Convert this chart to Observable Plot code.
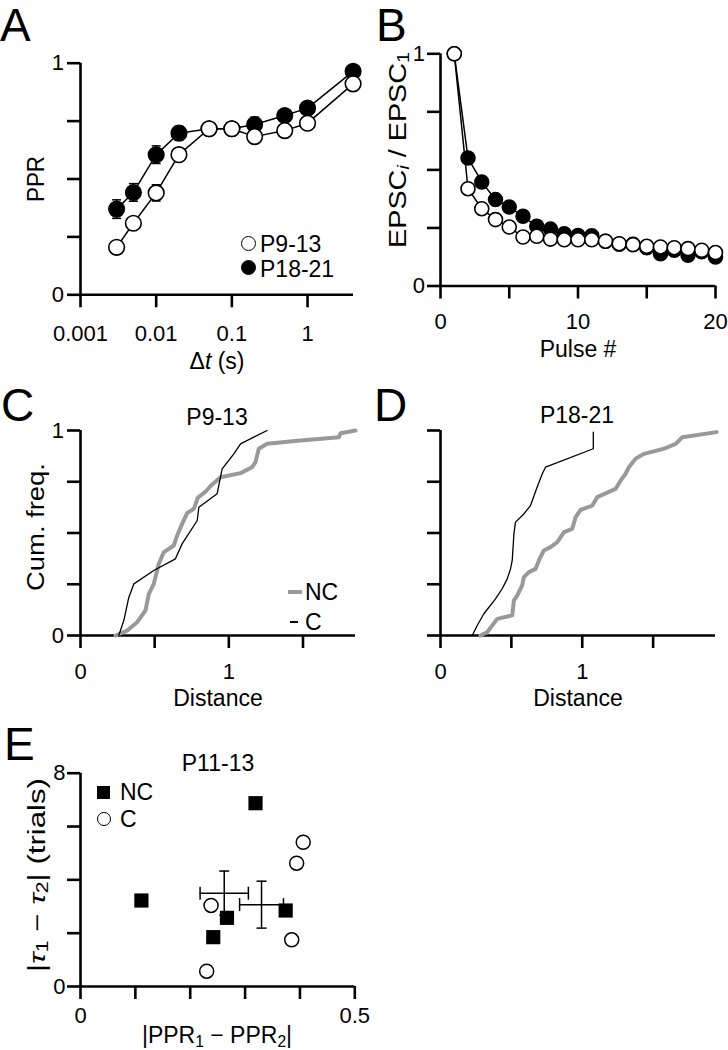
<!DOCTYPE html>
<html><head><meta charset="utf-8">
<script src="https://cdn.jsdelivr.net/npm/d3@7"></script>
<script src="https://cdn.jsdelivr.net/npm/@observablehq/plot@0.6"></script>
<style>
body{margin:0;background:#fff;}
#page{position:relative;width:728px;height:1050px;overflow:hidden;font-family:"Liberation Sans",Arial,Helvetica,sans-serif;color:#000;background:#fff;}
#page svg{position:absolute;overflow:visible;}
.t{position:absolute;white-space:nowrap;}
.t sub{font-size:0.68em;line-height:0;vertical-align:-0.25em;}
.sym{position:absolute;box-sizing:border-box;}
</style></head><body><div id="page"></div>
<script>
// ---------- DATA ----------
// Panel A: paired-pulse ratio vs interval
const dtValues      = [0.003, 0.005, 0.01, 0.02, 0.05, 0.1, 0.2, 0.5, 1, 4];
const pprP9_13      = [0.205, 0.309, 0.44, 0.605, 0.717, 0.717, 0.683, 0.709, 0.741, 0.911];
const pprP9_13Err   = [0.02, 0.025, 0.035, 0.025, 0.02, 0.02, 0.02, 0.02, 0.02, 0.02];
const pprP18_21     = [0.37, 0.442, 0.605, 0.698, 0.717, 0.717, 0.735, 0.774, 0.806, 0.965];
const pprP18_21Err  = [0.04, 0.038, 0.038, 0.03, 0.025, 0.025, 0.032, 0.02, 0.02, 0.02];
const aXTicks = [0.001, 0.01, 0.1, 1];
const aYTicks = [0, 0.25, 0.5, 0.75, 1];
const aYLabels = [0, 1];

// Panel B: EPSC_i / EPSC_1 vs pulse number
const pulseNumbers  = [1,2,3,4,5,6,7,8,9,10,11,12,13,14,15,16,17,18,19,20];
const epscP9_13     = [1.0, 0.419, 0.333, 0.286, 0.254, 0.211, 0.214, 0.202, 0.199, 0.199, 0.199, 0.193, 0.182, 0.178, 0.171, 0.168, 0.165, 0.161, 0.154, 0.144];
const epscP9_13Err  = [0, 0.012, 0.01, 0.01, 0.01, 0.01, 0.01, 0.01, 0.01, 0.01, 0.01, 0.01, 0.01, 0.01, 0.01, 0.01, 0.01, 0.01, 0.01, 0.01];
const epscP18_21    = [1.0, 0.551, 0.448, 0.372, 0.34, 0.30, 0.257, 0.245, 0.225, 0.218, 0.216, 0.193, 0.18, 0.18, 0.165, 0.139, 0.154, 0.132, 0.147, 0.125];
const epscP18_21Err = [0, 0.02, 0.02, 0.02, 0.02, 0.02, 0.02, 0.018, 0.018, 0.018, 0.018, 0.015, 0.015, 0.018, 0.015, 0.015, 0.015, 0.015, 0.015, 0.015];
const bXTicks = [0, 5, 10, 15, 20];
const bXLabels = [0, 10, 20];
const bYTicks = [0, 0.25, 0.5, 0.75, 1];
const bYLabels = [0, 1];

// Panel C: cumulative distributions, P9-13
const cNCdist = [0.236, 0.315, 0.382, 0.438, 0.461, 0.494, 0.528, 0.562, 0.629, 0.652, 0.685, 0.719, 0.764, 0.791, 0.843, 0.888, 0.944, 1.079, 1.157, 1.18, 1.202, 1.258, 1.483, 1.742, 1.753, 1.854];
const cNCfreq = [0, 0.024, 0.065, 0.122, 0.203, 0.252, 0.35, 0.407, 0.439, 0.488, 0.545, 0.597, 0.618, 0.672, 0.702, 0.737, 0.772, 0.792, 0.821, 0.846, 0.911, 0.935, 0.951, 0.967, 0.987, 1.0];
const cCdist  = [0.258, 0.292, 0.326, 0.36, 0.494, 0.64, 0.685, 0.787, 0.798, 0.921, 0.955, 1.034, 1.079, 1.258];
const cCfreq  = [0, 0.073, 0.187, 0.252, 0.317, 0.374, 0.447, 0.561, 0.626, 0.691, 0.813, 0.886, 0.935, 1.0];
const cdXTicks = [0, 0.5, 1, 1.5];
const cdXLabels = [0, 1];
const cdYTicks = [0, 0.25, 0.5, 0.75, 1];
const cYLabels = [0, 1];
const dYLabels = [];

// Panel D: cumulative distributions, P18-21
const dNCdist = [0.282, 0.329, 0.4, 0.506, 0.518, 0.541, 0.576, 0.588, 0.624, 0.671, 0.694, 0.729, 0.776, 0.824, 0.871, 0.929, 0.953, 0.988, 1.071, 1.106, 1.235, 1.271, 1.306, 1.329, 1.376, 1.435, 1.576, 1.659, 1.706, 1.948];
const dNCfreq = [0, 0.016, 0.081, 0.098, 0.171, 0.195, 0.244, 0.285, 0.309, 0.325, 0.366, 0.415, 0.431, 0.455, 0.504, 0.52, 0.577, 0.613, 0.634, 0.675, 0.715, 0.756, 0.789, 0.821, 0.862, 0.886, 0.911, 0.935, 0.967, 0.992];
const dCdist  = [0.224, 0.259, 0.306, 0.388, 0.435, 0.471, 0.494, 0.506, 0.518, 0.529, 0.588, 0.635, 0.682, 0.718, 0.741, 1.078, 1.078];
const dCfreq  = [0, 0.049, 0.106, 0.179, 0.228, 0.276, 0.325, 0.366, 0.496, 0.553, 0.593, 0.634, 0.724, 0.789, 0.821, 0.911, 0.992];

// Panel E: |PPR1-PPR2| vs |tau1-tau2|, P11-13
const eNCppr = [0.111, 0.242, 0.267, 0.319, 0.374];
const eNCtau = [3.225, 1.85, 2.575, 6.875, 2.85];
const eCppr  = [0.230, 0.238, 0.385, 0.394, 0.406];
const eCtau  = [0.575, 3.04, 1.75, 4.625, 5.41];
const eMeanGroup = ["NC", "C"];
const eMeanPpr    = [0.262, 0.330];
const eMeanPprErr = [0.044, 0.040];
const eMeanTau    = [3.5, 3.07];
const eMeanTauErr = [0.83, 0.88];
const eXTicks = [0, 0.1, 0.2, 0.3, 0.4, 0.5];
const eXLabels = [0, 0.5];
const eYTicks = [0, 2, 4, 6, 8];
const eYLabels = [0, 8];

// ---------- HELPERS ----------
const page = document.getElementById("page");
const FONT = '"Liberation Sans", Arial, Helvetica, sans-serif';
const AX = 2.6;      // axis line width
const TICK = 13;     // tick length
const TFS = 22;      // tick font size

const hCap = {draw(ctx, size){ const w = Math.sqrt(size/Math.PI); ctx.moveTo(-w,0); ctx.lineTo(w,0); }};
const vCap = {draw(ctx, size){ const w = Math.sqrt(size/Math.PI); ctx.moveTo(0,-w); ctx.lineTo(0,w); }};

function axes(xmin, ymin, xt, xl, yt, yl, xPad, yPad) {
  return [
    Plot.ruleX([xmin], {stroke: "#000", strokeWidth: AX}),
    Plot.ruleY([ymin], {stroke: "#000", strokeWidth: AX}),
    Plot.axisX(xt, {tickSize: TICK, tickPadding: xPad, strokeWidth: AX, fontSize: TFS, label: null,
      tickFormat: d => xl.includes(d) ? String(d) : ""}),
    Plot.axisY(yt, {tickSize: TICK, tickPadding: yPad, strokeWidth: AX, fontSize: TFS, label: null,
      tickFormat: d => yl.includes(d) ? String(d) : ""})
  ];
}

function panel(box, frame, scales, marks) {
  const [bx0, by0, bx1, by1] = box;
  const [fx0, fy0, fx1, fy1] = frame;
  const svg = Plot.plot({
    width: bx1 - bx0, height: by1 - by0,
    marginLeft: fx0 - bx0, marginTop: fy0 - by0, marginRight: bx1 - fx1, marginBottom: by1 - fy1,
    style: {fontFamily: FONT, fontSize: TFS + "px", background: "transparent", color: "#000", overflow: "visible"},
    ...scales,
    marks
  });
  svg.style.left = bx0 + "px";
  svg.style.top = by0 + "px";
  page.appendChild(svg);
}

// baseline offset of a line box (Liberation Sans ascent .905, descent .212)
const baseOff = lh => (lh - 1.117) / 2 + 0.905;

function txt(html, x, baseline, fs, anchor = "middle", lh = 1) {
  const d = document.createElement("div");
  d.className = "t";
  d.innerHTML = html;
  d.style.fontSize = fs + "px";
  d.style.lineHeight = lh;
  d.style.left = x + "px";
  d.style.top = (baseline - baseOff(lh) * fs) + "px";
  const tx = anchor === "middle" ? "-50%" : anchor === "end" ? "-100%" : "0";
  d.style.transform = `translateX(${tx})`;
  page.appendChild(d);
}
function vtxt(html, cx, cy, fs, len) {
  const d = document.createElement("div");
  d.className = "t";
  d.innerHTML = html;
  d.style.fontSize = fs + "px";
  d.style.lineHeight = 1;
  d.style.left = cx + "px";
  d.style.top = cy + "px";
  page.appendChild(d);
  const w = d.getBoundingClientRect().width;
  const s = len ? len / w : 1;
  d.style.transform = `translate(-50%,-50%) rotate(-90deg) scaleX(${s})`;
}
function sym(cx, cy, w, h, css) {
  const d = document.createElement("div");
  d.className = "sym";
  d.style.left = (cx - w / 2) + "px";
  d.style.top = (cy - h / 2) + "px";
  d.style.width = w + "px";
  d.style.height = h + "px";
  Object.assign(d.style, css);
  page.appendChild(d);
}

// ---------- PANEL A ----------
const aData = dtValues.map((x, i) => ({x, y1: pprP9_13[i], e1: pprP9_13Err[i], y2: pprP18_21[i], e2: pprP18_21Err[i]}));
panel([0, 40, 364, 350], [80, 62.7, 353, 294.3],
  {x: {type: "log", domain: [0.001, 4.05]}, y: {domain: [0, 1]}},
  [
    ...axes(0.001, 0, aXTicks, aXTicks, aYTicks, aYLabels, 17.1, 3.5),
    Plot.line(aData, {x: "x", y: "y2", stroke: "#000", strokeWidth: 1.5}),
    Plot.line(aData, {x: "x", y: "y1", stroke: "#000", strokeWidth: 1.5}),
    Plot.ruleX(aData, {x: "x", y1: d => d.y2 - d.e2, y2: d => d.y2 + d.e2, stroke: "#000", strokeWidth: 1.5}),
    Plot.dot(aData, {x: "x", y: d => d.y2 + d.e2, symbol: hCap, r: 4.5, stroke: "#000", strokeWidth: 1.5}),
    Plot.dot(aData, {x: "x", y: d => d.y2 - d.e2, symbol: hCap, r: 4.5, stroke: "#000", strokeWidth: 1.5}),
    Plot.dot(aData, {x: "x", y: "y2", r: 7.8, fill: "#000", stroke: "#000", strokeWidth: 1.5}),
    Plot.ruleX(aData, {x: "x", y1: d => d.y1 - d.e1, y2: d => d.y1 + d.e1, stroke: "#000", strokeWidth: 1.5}),
    Plot.dot(aData, {x: "x", y: d => d.y1 + d.e1, symbol: hCap, r: 4.5, stroke: "#000", strokeWidth: 1.5}),
    Plot.dot(aData, {x: "x", y: d => d.y1 - d.e1, symbol: hCap, r: 4.5, stroke: "#000", strokeWidth: 1.5}),
    Plot.dot(aData, {x: "x", y: "y1", r: 7.8, fill: "#fff", stroke: "#000", strokeWidth: 1.6})
  ]);

// ---------- PANEL B ----------
const bData = pulseNumbers.map((x, i) => ({x, y1: epscP9_13[i], e1: epscP9_13Err[i], y2: epscP18_21[i], e2: epscP18_21Err[i]}));
panel([364, 30, 728, 340], [440, 53.3, 715, 285.5],
  {x: {domain: [0, 20]}, y: {domain: [0, 1]}},
  [
    ...axes(0, 0, bXTicks, bXLabels, bYTicks, bYLabels, 13.9, 2.5),
    Plot.line(bData, {x: "x", y: "y2", stroke: "#000", strokeWidth: 1.5}),
    Plot.line(bData, {x: "x", y: "y1", stroke: "#000", strokeWidth: 1.5}),
    Plot.ruleX(bData, {x: "x", y1: d => d.y2 - d.e2, y2: d => d.y2 + d.e2, stroke: "#000", strokeWidth: 1.5}),
    Plot.dot(bData, {x: "x", y: d => d.y2 + d.e2, symbol: hCap, r: 4, stroke: "#000", strokeWidth: 1.5}),
    Plot.dot(bData, {x: "x", y: "y2", r: 7, fill: "#000", stroke: "#000", strokeWidth: 1.5}),
    Plot.dot(bData, {x: "x", y: "y1", r: 7, fill: "#fff", stroke: "#000", strokeWidth: 1.6})
  ]);

// ---------- PANEL C ----------
const cNC = cNCdist.map((x, i) => ({x, y: cNCfreq[i]}));
const cC = cCdist.map((x, i) => ({x, y: cCfreq[i]}));
panel([0, 415, 364, 685], [80, 430, 355, 635],
  {x: {domain: [0, 1.854]}, y: {domain: [0, 1]}},
  [
    ...axes(0, 0, cdXTicks, cdXLabels, cdYTicks, cYLabels, 14.4, 3.5),
    Plot.line(cNC, {x: "x", y: "y", stroke: "#999", strokeWidth: 4, strokeLinejoin: "round"}),
    Plot.line(cC, {x: "x", y: "y", stroke: "#000", strokeWidth: 1.3})
  ]);

// ---------- PANEL D ----------
const dNC = dNCdist.map((x, i) => ({x, y: dNCfreq[i]}));
const dC = dCdist.map((x, i) => ({x, y: dCfreq[i]}));
panel([364, 415, 728, 685], [440, 430, 715, 635],
  {x: {domain: [0, 1.94]}, y: {domain: [0, 1]}},
  [
    ...axes(0, 0, cdXTicks, cdXLabels, cdYTicks, dYLabels, 14.4, 3.5),
    Plot.line(dNC, {x: "x", y: "y", stroke: "#999", strokeWidth: 4, strokeLinejoin: "round"}),
    Plot.line(dC, {x: "x", y: "y", stroke: "#000", strokeWidth: 1.3})
  ]);

// ---------- PANEL E ----------
const eNC = eNCppr.map((x, i) => ({x, y: eNCtau[i]}));
const eC = eCppr.map((x, i) => ({x, y: eCtau[i]}));
const eMean = eMeanGroup.map((g, i) => ({g, x: eMeanPpr[i], xe: eMeanPprErr[i], y: eMeanTau[i], ye: eMeanTauErr[i]}));
panel([0, 760, 380, 1030], [80, 772.7, 354.3, 986],
  {x: {domain: [0, 0.5]}, y: {domain: [0, 8]}},
  [
    ...axes(0, 0, eXTicks, eXLabels, eYTicks, eYLabels, 7.4, 2),
    Plot.ruleY(eMean, {y: "y", x1: d => d.x - d.xe, x2: d => d.x + d.xe, stroke: "#000", strokeWidth: 1.5}),
    Plot.ruleX(eMean, {x: "x", y1: d => d.y - d.ye, y2: d => d.y + d.ye, stroke: "#000", strokeWidth: 1.5}),
    Plot.dot(eMean, {x: d => d.x - d.xe, y: "y", symbol: vCap, r: 6.5, stroke: "#000", strokeWidth: 1.5}),
    Plot.dot(eMean, {x: d => d.x + d.xe, y: "y", symbol: vCap, r: 6.5, stroke: "#000", strokeWidth: 1.5}),
    Plot.dot(eMean, {x: "x", y: d => d.y + d.ye, symbol: hCap, r: 5, stroke: "#000", strokeWidth: 1.5}),
    Plot.dot(eMean, {x: "x", y: d => d.y - d.ye, symbol: hCap, r: 5, stroke: "#000", strokeWidth: 1.5}),
    Plot.dot(eNC, {x: "x", y: "y", symbol: "square", r: 8, fill: "#000", stroke: "none"}),
    Plot.dot(eC, {x: "x", y: "y", r: 7, fill: "#fff", stroke: "#000", strokeWidth: 1.5})
  ]);

// ---------- TEXT ----------
const LFS = 46, AFS = 23;
txt("A", 0, 41, LFS, "start", 0.7);
txt("B", 376, 41, LFS, "start", 0.7);
txt("C", 1, 421, LFS, "start", 0.7);
txt("D", 374, 421, LFS, "start", 0.7);
txt("E", 4, 760, LFS, "start", 0.7);

// Panel A
vtxt("PPR", 36, 179, AFS, 46);
txt("&Delta;<i>t</i> (s)", 217, 369, AFS);
sym(248, 243, 15, 15, {border: "1.6px solid #000", borderRadius: "50%", background: "#fff"});
txt("P9-13", 260, 252, AFS, "start");
sym(248, 267, 15, 15, {border: "1.6px solid #000", borderRadius: "50%", background: "#000"});
txt("P18-21", 260, 277, AFS, "start");

// Panel B
vtxt("EPSC<sub><i>i</i></sub> / EPSC<sub>1</sub>", 398, 150, AFS, 196);
txt("Pulse #", 578, 357, AFS);

// Panel C
txt("P9-13", 217, 425, AFS);
vtxt("Cum. freq.", 36, 527, AFS, 128);
txt("Distance", 218, 706, AFS);
sym(295, 592, 14, 4, {background: "#999"});
txt("NC", 305, 600, AFS, "start");
sym(294, 622, 8, 1.5, {background: "#000"});
txt("C", 305, 630, AFS, "start");

// Panel D
txt("P18-21", 577, 423, AFS);
txt("Distance", 578, 706, AFS);

// Panel E
txt("P11-13", 218, 771, AFS);
vtxt("|<i>&tau;</i><sub>1</sub> &minus; <i>&tau;</i><sub>2</sub>| (trials)", 37, 875, AFS, 194);
txt("|PPR<sub>1</sub> &minus; PPR<sub>2</sub>|", 217, 1043, AFS);
sym(103, 792, 13, 13, {background: "#000"});
txt("NC", 120, 800, AFS, "start");
sym(104, 819, 14, 14, {border: "1.5px solid #000", borderRadius: "50%", background: "#fff"});
txt("C", 120, 827, AFS, "start");
</script></body></html>
